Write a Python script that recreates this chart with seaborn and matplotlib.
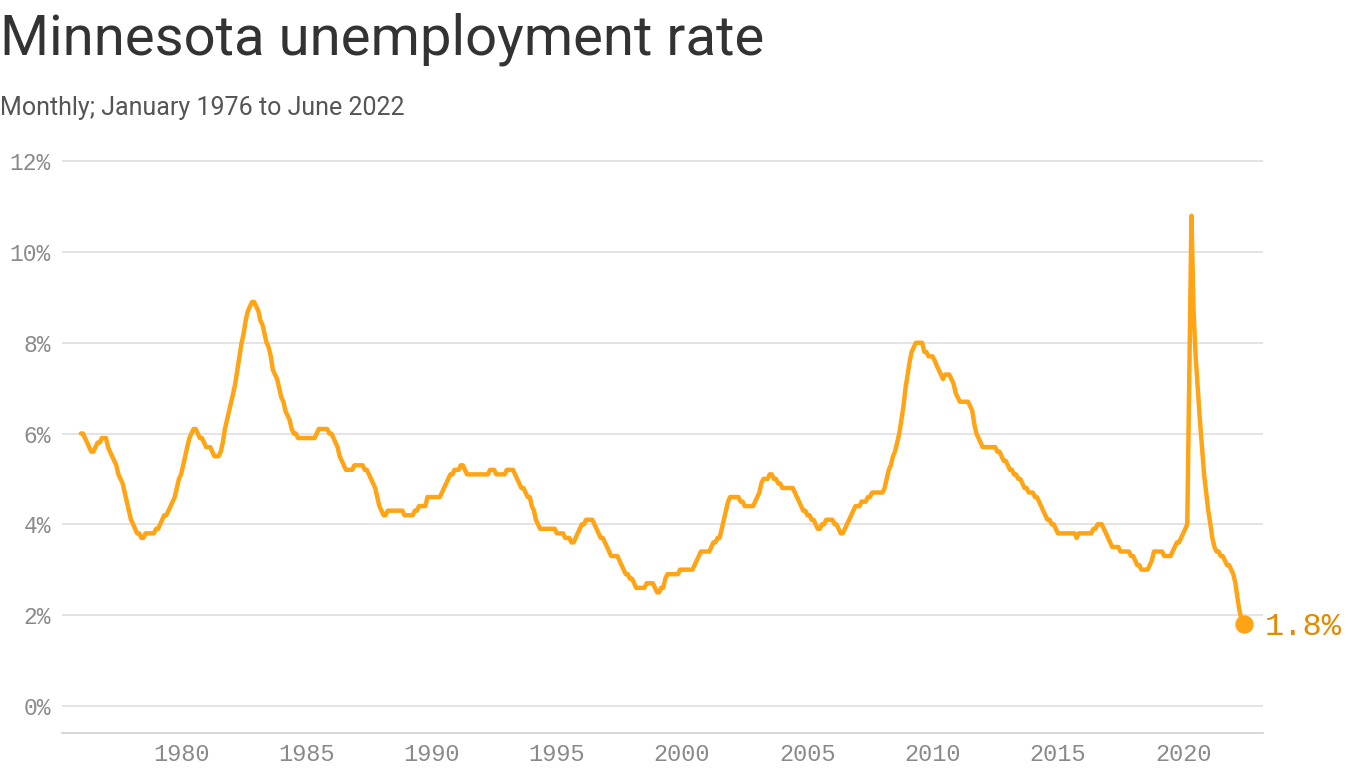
import matplotlib
matplotlib.use("Agg")
import matplotlib.pyplot as plt
import pandas as pd
import seaborn as sns

# Minnesota unemployment rate, monthly, Jan 1976 - Jun 2022 (percent)
rates_1976_1980 = [
    6.0, 6.0, 5.9, 5.8, 5.7, 5.6, 5.6, 5.7, 5.8, 5.8, 5.9, 5.9,
    5.9, 5.7, 5.6, 5.5, 5.4, 5.3, 5.1, 5.0, 4.9, 4.7, 4.5, 4.3,
    4.1, 4.0, 3.9, 3.8, 3.8, 3.7, 3.7, 3.8, 3.8, 3.8, 3.8, 3.8,
    3.9, 3.9, 4.0, 4.1, 4.2, 4.2, 4.3, 4.4, 4.5, 4.6, 4.8, 5.0,
    5.1, 5.3, 5.5, 5.7, 5.9, 6.0, 6.1, 6.1, 6.0, 5.9, 5.9, 5.8,
]
rates_1981_1985 = [
    5.7, 5.7, 5.7, 5.6, 5.5, 5.5, 5.5, 5.6, 5.8, 6.1, 6.3, 6.5,
    6.7, 6.9, 7.1, 7.4, 7.7, 8.0, 8.2, 8.5, 8.7, 8.8, 8.9, 8.9,
    8.8, 8.7, 8.5, 8.4, 8.2, 8.0, 7.9, 7.7, 7.4, 7.3, 7.2, 7.0,
    6.8, 6.7, 6.5, 6.4, 6.3, 6.1, 6.0, 6.0, 5.9, 5.9, 5.9, 5.9,
    5.9, 5.9, 5.9, 5.9, 5.9, 6.0, 6.1, 6.1, 6.1, 6.1, 6.1, 6.0,
]
rates_1986_1990 = [
    6.0, 5.9, 5.8, 5.7, 5.5, 5.4, 5.3, 5.2, 5.2, 5.2, 5.2, 5.3,
    5.3, 5.3, 5.3, 5.3, 5.2, 5.2, 5.1, 5.0, 4.9, 4.8, 4.6, 4.4,
    4.3, 4.2, 4.2, 4.3, 4.3, 4.3, 4.3, 4.3, 4.3, 4.3, 4.3, 4.2,
    4.2, 4.2, 4.2, 4.2, 4.3, 4.3, 4.4, 4.4, 4.4, 4.4, 4.6, 4.6,
    4.6, 4.6, 4.6, 4.6, 4.6, 4.7, 4.8, 4.9, 5.0, 5.1, 5.1, 5.2,
]
rates_1991_1995 = [
    5.2, 5.2, 5.3, 5.3, 5.2, 5.1, 5.1, 5.1, 5.1, 5.1, 5.1, 5.1,
    5.1, 5.1, 5.1, 5.1, 5.2, 5.2, 5.2, 5.1, 5.1, 5.1, 5.1, 5.1,
    5.2, 5.2, 5.2, 5.2, 5.1, 5.0, 4.9, 4.8, 4.8, 4.7, 4.6, 4.6,
    4.4, 4.3, 4.1, 4.0, 3.9, 3.9, 3.9, 3.9, 3.9, 3.9, 3.9, 3.9,
    3.8, 3.8, 3.8, 3.8, 3.7, 3.7, 3.7, 3.6, 3.6, 3.7, 3.8, 3.9,
]
rates_1996_2000 = [
    4.0, 4.0, 4.1, 4.1, 4.1, 4.1, 4.0, 3.9, 3.8, 3.7, 3.7, 3.6,
    3.5, 3.4, 3.3, 3.3, 3.3, 3.3, 3.2, 3.1, 3.0, 2.9, 2.9, 2.8,
    2.8, 2.7, 2.6, 2.6, 2.6, 2.6, 2.6, 2.7, 2.7, 2.7, 2.7, 2.6,
    2.5, 2.5, 2.6, 2.6, 2.8, 2.9, 2.9, 2.9, 2.9, 2.9, 2.9, 3.0,
    3.0, 3.0, 3.0, 3.0, 3.0, 3.0, 3.1, 3.2, 3.3, 3.4, 3.4, 3.4,
]
rates_2001_2005 = [
    3.4, 3.4, 3.5, 3.6, 3.6, 3.7, 3.7, 3.9, 4.1, 4.3, 4.5, 4.6,
    4.6, 4.6, 4.6, 4.6, 4.5, 4.5, 4.4, 4.4, 4.4, 4.4, 4.4, 4.5,
    4.6, 4.7, 4.9, 5.0, 5.0, 5.0, 5.1, 5.1, 5.0, 5.0, 4.9, 4.9,
    4.8, 4.8, 4.8, 4.8, 4.8, 4.8, 4.7, 4.6, 4.5, 4.4, 4.3, 4.3,
    4.2, 4.2, 4.1, 4.1, 4.0, 3.9, 3.9, 4.0, 4.0, 4.1, 4.1, 4.1,
]
rates_2006_2010 = [
    4.1, 4.0, 4.0, 3.9, 3.8, 3.8, 3.9, 4.0, 4.1, 4.2, 4.3, 4.4,
    4.4, 4.4, 4.5, 4.5, 4.5, 4.6, 4.6, 4.7, 4.7, 4.7, 4.7, 4.7,
    4.7, 4.8, 5.0, 5.2, 5.3, 5.5, 5.6, 5.8, 6.0, 6.3, 6.6, 7.0,
    7.3, 7.6, 7.8, 7.9, 8.0, 8.0, 8.0, 8.0, 7.8, 7.8, 7.7, 7.7,
    7.7, 7.6, 7.5, 7.4, 7.3, 7.2, 7.3, 7.3, 7.3, 7.2, 7.1, 6.9,
]
rates_2011_2015 = [
    6.8, 6.7, 6.7, 6.7, 6.7, 6.7, 6.6, 6.5, 6.2, 6.0, 5.9, 5.8,
    5.7, 5.7, 5.7, 5.7, 5.7, 5.7, 5.7, 5.6, 5.6, 5.5, 5.4, 5.4,
    5.3, 5.2, 5.2, 5.1, 5.1, 5.0, 5.0, 4.9, 4.8, 4.8, 4.7, 4.7,
    4.7, 4.6, 4.6, 4.5, 4.4, 4.3, 4.2, 4.1, 4.1, 4.0, 4.0, 3.9,
    3.8, 3.8, 3.8, 3.8, 3.8, 3.8, 3.8, 3.8, 3.8, 3.7, 3.8, 3.8,
]
rates_2016_2020 = [
    3.8, 3.8, 3.8, 3.8, 3.8, 3.9, 3.9, 4.0, 4.0, 4.0, 3.9, 3.8,
    3.7, 3.6, 3.5, 3.5, 3.5, 3.5, 3.4, 3.4, 3.4, 3.4, 3.4, 3.3,
    3.3, 3.2, 3.1, 3.1, 3.0, 3.0, 3.0, 3.0, 3.1, 3.2, 3.4, 3.4,
    3.4, 3.4, 3.4, 3.3, 3.3, 3.3, 3.3, 3.4, 3.5, 3.6, 3.6, 3.7,
    3.8, 3.9, 4.0, 7.5, 10.8, 8.7, 7.7, 7.0, 6.3, 5.7, 5.1, 4.7,
]
rates_2021_2022 = [
    4.3, 4.0, 3.7, 3.5, 3.4, 3.4, 3.3, 3.3, 3.2, 3.1, 3.1, 3.0,
    2.9, 2.7, 2.4, 2.1, 1.9, 1.8,
]

rates = (rates_1976_1980 + rates_1981_1985 + rates_1986_1990 + rates_1991_1995
         + rates_1996_2000 + rates_2001_2005 + rates_2006_2010 + rates_2011_2015
         + rates_2016_2020 + rates_2021_2022)
months = pd.date_range("1976-01-01", periods=len(rates), freq="MS")
df = pd.DataFrame({"month": months, "rate": rates})

y_ticks = [0, 2, 4, 6, 8, 10, 12]
y_tick_labels = ["0%", "2%", "4%", "6%", "8%", "10%", "12%"]
x_tick_years = [1980, 1985, 1990, 1995, 2000, 2005, 2010, 2015, 2020]
title = "Minnesota unemployment rate"
subtitle = "Monthly; January 1976 to June 2022"
end_label = "1.8%"

LINE = "#FFA414"
LABEL = "#E38A00"
GRID = "#E2E2E2"
TICK_TXT = "#8A8A8A"

sns.set_style("white")
plt.rcParams["font.family"] = ["Roboto", "DejaVu Sans"]

fig = plt.figure(figsize=(13.66, 7.68), dpi=100)
W, H = 1366, 768
ax = fig.add_axes([62 / W, 35 / H, (1263 - 62) / W, (733 - 159) / H])

sns.lineplot(data=df, x="month", y="rate", ax=ax, color=LINE, linewidth=3.2,
             solid_joinstyle="round", solid_capstyle="round", zorder=3)
ax.scatter([months[-1]], [rates[-1]], s=150, color=LINE, zorder=4, clip_on=False)
ax.annotate(end_label, (months[-1], rates[-1]), xytext=(15, -2),
            textcoords="offset points", ha="left", va="center",
            fontsize=23, family="Liberation Mono", color=LABEL,
            annotation_clip=False)

ax.set_ylim(-0.6, 12.05)
ax.set_xlim(pd.Timestamp("1975-04-01"), pd.Timestamp("2023-03-10"))
ax.set_yticks(y_ticks)
ax.set_yticklabels(y_tick_labels)
ax.set_xticks([pd.Timestamp(f"{y}-01-01") for y in x_tick_years])
ax.set_xticklabels([str(y) for y in x_tick_years])

ax.yaxis.grid(True, color=GRID, linewidth=1.3)
ax.xaxis.grid(False)
for s in ["left", "right", "top"]:
    ax.spines[s].set_visible(False)
ax.spines["bottom"].set_color("#CFCFCF")
ax.spines["bottom"].set_linewidth(1.2)

ax.tick_params(axis="y", length=0, pad=8, labelsize=16.5, labelcolor=TICK_TXT)
ax.tick_params(axis="x", length=5, width=1.2, color="#CFCFCF", pad=2,
               labelsize=17, labelcolor=TICK_TXT)
for lab in ax.get_xticklabels() + ax.get_yticklabels():
    lab.set_family("Liberation Mono")

ax.set_xlabel("")
ax.set_ylabel("")

fig.text(0.0, 1 - 55 / H, title, fontsize=40.5, color="#333333", va="baseline", ha="left")
fig.text(0.0, 1 - 115 / H, subtitle, fontsize=18, color="#555555", va="baseline", ha="left")

fig.savefig("out.png", dpi=100)
